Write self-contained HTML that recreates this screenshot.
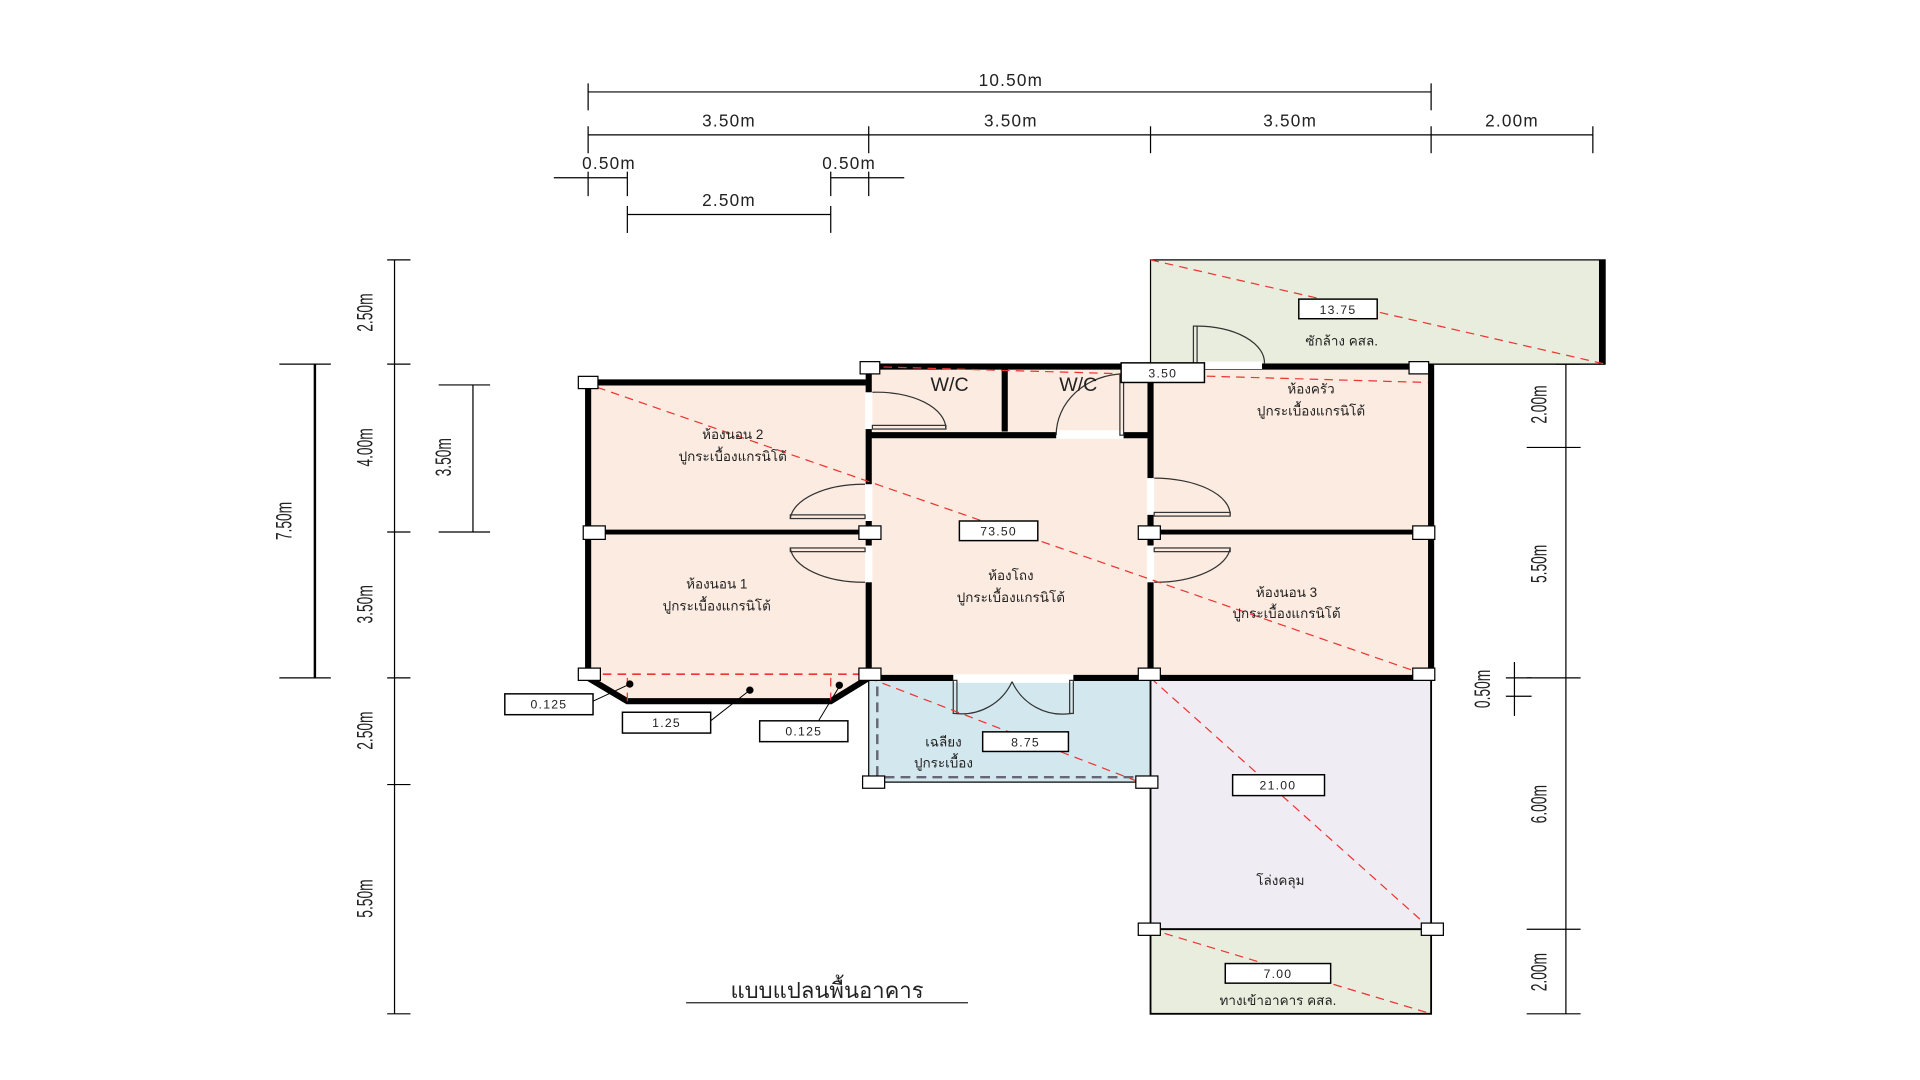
<!DOCTYPE html>
<html><head><meta charset="utf-8"><style>
html,body{margin:0;padding:0;background:#fff;}
svg{display:block;}
text{font-family:"Liberation Sans","Noto Sans CJK SC",sans-serif;fill:#222;}
.dim{font-size:14px;letter-spacing:1px;}
.th{font-size:11px;text-anchor:middle;}
.lb{font-size:10px;text-anchor:middle;letter-spacing:1px;}
</style></head><body>
<svg width="1920" height="1080" viewBox="0 0 1567 881" preserveAspectRatio="none" xmlns="http://www.w3.org/2000/svg">
<g stroke="#000" stroke-width="1" fill="none">
<line x1="480" y1="75" x2="1168" y2="75"/><line x1="480" y1="68" x2="480" y2="90"/><line x1="1168" y1="68" x2="1168" y2="90"/>
<line x1="480" y1="110" x2="1300" y2="110"/>
<line x1="480" y1="103" x2="480" y2="125"/><line x1="709" y1="103" x2="709" y2="125"/><line x1="939" y1="103" x2="939" y2="125"/><line x1="1168" y1="103" x2="1168" y2="125"/><line x1="1300" y1="103" x2="1300" y2="125"/>
<line x1="452" y1="145" x2="512" y2="145"/><line x1="480" y1="140" x2="480" y2="160"/><line x1="512" y1="140" x2="512" y2="160"/>
<line x1="678" y1="145" x2="738" y2="145"/><line x1="678" y1="140" x2="678" y2="160"/><line x1="709" y1="140" x2="709" y2="160"/>
<line x1="512" y1="175" x2="678" y2="175"/><line x1="512" y1="168" x2="512" y2="190"/><line x1="678" y1="168" x2="678" y2="190"/>
<line x1="322" y1="212" x2="322" y2="827"/>
<line x1="316" y1="212" x2="335" y2="212"/><line x1="316" y1="297" x2="335" y2="297"/><line x1="316" y1="434" x2="335" y2="434"/><line x1="316" y1="553" x2="335" y2="553"/><line x1="316" y1="640" x2="335" y2="640"/><line x1="316" y1="827" x2="335" y2="827"/>
<line x1="257" y1="297" x2="257" y2="553" stroke-width="2"/><line x1="228" y1="297" x2="270" y2="297"/><line x1="228" y1="553" x2="270" y2="553"/>
<line x1="386" y1="314" x2="386" y2="434"/><line x1="358" y1="314" x2="400" y2="314"/><line x1="358" y1="434" x2="400" y2="434"/>
<line x1="1278" y1="297" x2="1278" y2="827"/>
<line x1="1246" y1="365" x2="1290" y2="365"/><line x1="1246" y1="553" x2="1290" y2="553"/><line x1="1246" y1="758" x2="1290" y2="758"/><line x1="1246" y1="827" x2="1290" y2="827"/><line x1="1270" y1="297" x2="1290" y2="297"/>
<line x1="1236" y1="540" x2="1236" y2="584"/><line x1="1229" y1="553" x2="1250" y2="553"/><line x1="1229" y1="568" x2="1250" y2="568"/>
</g>
<g class="dim" text-anchor="middle">
<text x="825" y="70">10.50m</text>
<text x="595" y="103">3.50m</text><text x="825" y="103">3.50m</text><text x="1053" y="103">3.50m</text><text x="1234" y="103">2.00m</text>
<text x="497" y="138">0.50m</text><text x="693" y="138">0.50m</text><text x="595" y="168">2.50m</text>
</g>
<g class="dim" text-anchor="middle" style="font-size:15px;letter-spacing:0">
<text transform="translate(304,255) rotate(-90) scale(0.75,1.2)">2.50m</text>
<text transform="translate(304,365) rotate(-90) scale(0.75,1.2)">4.00m</text>
<text transform="translate(304,493) rotate(-90) scale(0.75,1.2)">3.50m</text>
<text transform="translate(304,596) rotate(-90) scale(0.75,1.2)">2.50m</text>
<text transform="translate(304,733) rotate(-90) scale(0.75,1.2)">5.50m</text>
<text transform="translate(238,425) rotate(-90) scale(0.75,1.2)">7.50m</text>
<text transform="translate(368,373) rotate(-90) scale(0.75,1.2)">3.50m</text>
<text transform="translate(1262,330) rotate(-90) scale(0.75,1.2)">2.00m</text>
<text transform="translate(1262,460) rotate(-90) scale(0.75,1.2)">5.50m</text>
<text transform="translate(1262,656) rotate(-90) scale(0.75,1.2)">6.00m</text>
<text transform="translate(1262,793) rotate(-90) scale(0.75,1.2)">2.00m</text>
<text transform="translate(1216,562) rotate(-90) scale(0.75,1.2)">0.50m</text>
</g>
<rect x="939" y="212" width="371" height="85" fill="#e9eddd" stroke="#000" stroke-width="1"/>
<rect x="1305" y="212" width="5" height="85" fill="#000"/>
<g fill="#fcebe0">
<rect x="480" y="312" width="229" height="241"/>
<rect x="709" y="299" width="230" height="254"/>
<rect x="939" y="299" width="229" height="254"/>
<polygon points="480,553 512,572 678,572 709,553"/>
</g>
<rect x="709" y="553" width="230" height="85" fill="#d3e8ee" stroke="#000"/>
<rect x="939" y="553" width="229" height="205" fill="#efedf3" stroke="#000" stroke-width="1.5"/>
<rect x="939" y="758" width="229" height="69" fill="#e9eddd" stroke="#000" stroke-width="1.5"/>
<line x1="1168" y1="297" x2="1310" y2="297" stroke="#000"/>
<g stroke="#000" stroke-width="5" fill="none">
<polyline points="709,312 480,312 480,553 512,572 678,572 709,553 709,299 1168,299 1168,553 709,553"/>
<line x1="820" y1="299" x2="820" y2="352"/>
<line x1="709" y1="355" x2="939" y2="355"/>
<line x1="939" y1="299" x2="939" y2="553"/>
<line x1="480" y1="434" x2="709" y2="434" stroke-width="4"/>
<line x1="939" y1="434" x2="1168" y2="434" stroke-width="4"/>
</g>
<g fill="#fff">
<rect x="706" y="320" width="6" height="30"/>
<rect x="862" y="351" width="55" height="7"/>
<rect x="706" y="395" width="6" height="30"/>
<rect x="706" y="445" width="6" height="30"/>
<rect x="936" y="390" width="6" height="30"/>
<rect x="936" y="445" width="6" height="30"/>
<rect x="778" y="550" width="98" height="7"/>
<rect x="975" y="295" width="55" height="6"/>
</g>
<g stroke="#333" stroke-width="1" fill="none">
<path d="M712,320 A56,30 0 0 1 772,350"/><rect x="712" y="347" width="60" height="3"/>
<path d="M917,305 A56,50 0 0 0 862,355"/><rect x="914" y="305" width="3" height="50"/>
<path d="M706,395 A60,30 0 0 0 645,423"/><rect x="645" y="420" width="61" height="3"/>
<path d="M706,475 A60,30 0 0 1 645,447"/><rect x="645" y="447" width="61" height="3"/>
<path d="M942,390 A62,30 0 0 1 1004,420"/><rect x="942" y="418" width="62" height="3"/>
<path d="M942,475 A62,30 0 0 0 1004,447"/><rect x="942" y="447" width="62" height="3"/>
<path d="M780,582 A45,45 0 0 0 826,556"/><path d="M874,582 A45,45 0 0 1 826,556"/>
<rect x="778" y="555" width="3" height="27"/><rect x="873" y="555" width="3" height="27"/>
<path d="M977,266 A55,30 0 0 1 1032,297"/><rect x="974" y="266" width="3" height="31"/>
</g>
<g stroke="#667" stroke-width="2" stroke-dasharray="8,5" fill="none">
<line x1="716" y1="560" x2="716" y2="634"/><line x1="722" y1="634" x2="930" y2="634"/>
</g>
<g stroke="#e33" stroke-width="1" stroke-dasharray="7,5" fill="none">
<line x1="476" y1="312" x2="1165" y2="551"/>
<line x1="709" y1="299" x2="1165" y2="312"/>
<line x1="939" y1="212" x2="1310" y2="297"/>
<line x1="709" y1="553" x2="930" y2="638"/>
<line x1="939" y1="553" x2="1168" y2="758"/>
<line x1="939" y1="758" x2="1168" y2="827"/>
<line x1="480" y1="550" x2="709" y2="550" stroke-width="1.3"/>
<line x1="512" y1="553" x2="512" y2="572"/><line x1="678" y1="553" x2="678" y2="572"/>
</g>
<g fill="#fff" stroke="#000" stroke-width="1">
<rect x="472" y="307" width="16" height="10"/><rect x="702" y="295" width="16" height="10"/>
<rect x="1150" y="295" width="16" height="10"/>
<rect x="476" y="429" width="18" height="11"/><rect x="701" y="429" width="18" height="11"/>
<rect x="929" y="429" width="18" height="11"/><rect x="1153" y="429" width="18" height="11"/>
<rect x="472" y="545" width="18" height="10"/><rect x="701" y="545" width="18" height="10"/>
<rect x="929" y="545" width="18" height="10"/><rect x="1153" y="545" width="18" height="10"/>
<rect x="704" y="633" width="18" height="10"/><rect x="927" y="633" width="18" height="10"/>
<rect x="929" y="753" width="18" height="10"/><rect x="1160" y="753" width="18" height="10"/>
</g>
<g stroke="#000" stroke-width="0.8" fill="none">
<line x1="484" y1="572" x2="514" y2="558"/><line x1="580" y1="588" x2="612" y2="563"/><line x1="668" y1="588" x2="685" y2="560"/>
</g>
<g fill="#000"><circle cx="514" cy="558" r="3"/><circle cx="612" cy="563" r="3"/><circle cx="685" cy="559" r="3"/></g>
<g fill="#fff" stroke="#000" stroke-width="1.2">
<rect x="1060" y="244" width="64" height="16"/><rect x="915" y="296" width="68" height="16"/>
<rect x="783" y="425" width="64" height="16"/><rect x="802" y="597" width="70" height="16"/>
<rect x="1006" y="632" width="75" height="17"/><rect x="1000" y="786" width="86" height="16"/>
<rect x="412" y="566" width="72" height="17"/><rect x="508" y="581" width="72" height="17"/><rect x="620" y="588" width="72" height="17"/>
</g>
<g class="lb">
<text x="1092" y="256">13.75</text><text x="949" y="308">3.50</text><text x="815" y="437">73.50</text>
<text x="837" y="609">8.75</text><text x="1043" y="644">21.00</text><text x="1043" y="798">7.00</text>
<text x="448" y="578">0.125</text><text x="544" y="593">1.25</text><text x="656" y="600">0.125</text>
</g>
<g style="font-size:16px" text-anchor="middle"><text x="775" y="319">W/C</text><text x="880" y="319">W/C</text></g>
<g class="th">
<text x="598" y="358">ห้องนอน 2</text><text x="598" y="376">ปูกระเบื้องแกรนิโต้</text>
<text x="585" y="480">ห้องนอน 1</text><text x="585" y="498">ปูกระเบื้องแกรนิโต้</text>
<text x="825" y="473">ห้องโถง</text><text x="825" y="491">ปูกระเบื้องแกรนิโต้</text>
<text x="1070" y="321">ห้องครัว</text><text x="1070" y="339">ปูกระเบื้องแกรนิโต้</text>
<text x="1050" y="487">ห้องนอน 3</text><text x="1050" y="504">ปูกระเบื้องแกรนิโต้</text>
<text x="770" y="609">เฉลียง</text><text x="770" y="626">ปูกระเบื้อง</text>
<text x="1095" y="282">ซักล้าง คสล.</text>
<text x="1045" y="722">โล่งคลุม</text>
<text x="1043" y="820">ทางเข้าอาคาร คสล.</text>
</g>
<text x="675" y="814" text-anchor="middle" style="font-size:18px">แบบแปลนพื้นอาคาร</text>
<line x1="560" y1="818" x2="790" y2="818" stroke="#222" stroke-width="1"/>
</svg>
</body></html>
